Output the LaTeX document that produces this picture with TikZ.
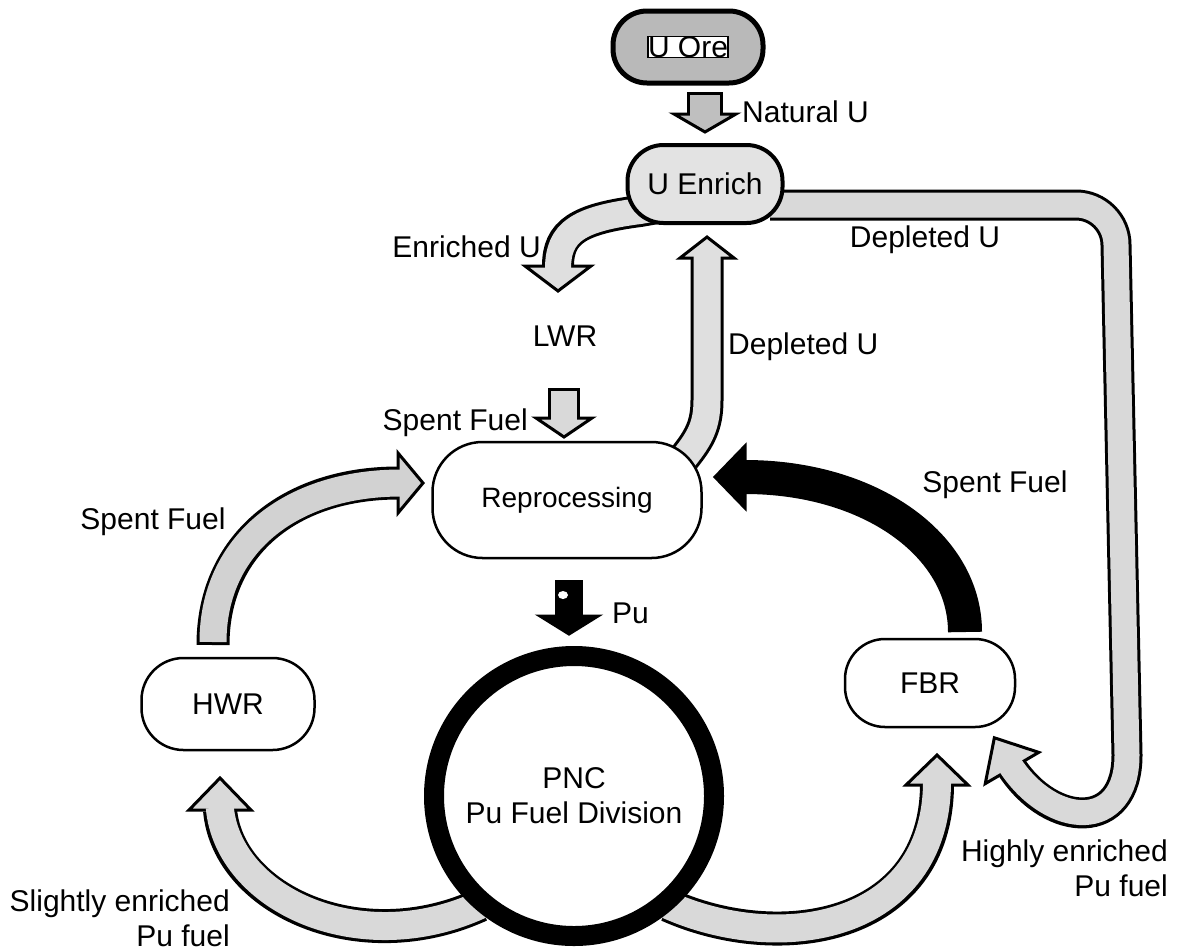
\documentclass[tikz,border=0pt]{standalone}
\usepackage{fontspec}
\setmainfont{Liberation Sans}
\usetikzlibrary{backgrounds}
\newcommand\bhead[6]{%
  \begin{scope}[shift={(#1,#2)}, rotate=#3]
    \filldraw[fill=#6, draw=black, line width=3pt, line join=miter] (0,-#4/2) -- (#5,0) -- (0,#4/2) -- cycle;
  \end{scope}}
\begin{document}
\begin{tikzpicture}[x=1pt,y=-1pt,
  txt/.style={font=\fontsize{30}{35}\selectfont, inner sep=0pt},
  pill/.style={draw, line width=2.5pt, fill=white, rounded corners=#1, font=\fontsize{30}{35}\selectfont},
  inner/.style={draw=#1, shorten >=-3pt},
  ]
\useasboundingbox (0,0) rectangle (1177,951);

% ---------- nodes ----------
\node[pill=34pt, line width=5pt, fill=gray!55, minimum width=150pt, minimum height=72pt] (uore) at (688,47) {};
\node[draw, line width=1.2pt, fill=white, inner sep=3pt, txt] (uoretxt) at (uore.center) {U Ore};
\node[pill=36pt, line width=4pt, fill=gray!22, minimum width=155pt, minimum height=78pt] (uenrich) at (705,184) {U Enrich};
\node[pill=50pt, minimum width=269pt, minimum height=116pt, font=\fontsize{28}{33}\selectfont] (repro) at (567,500) {Reprocessing};
\node[pill=42pt, minimum width=173pt, minimum height=92pt] (hwr) at (228,704) {HWR};
\node[pill=40pt, minimum width=170pt, minimum height=88pt] (fbr) at (930,683) {FBR};
\node[circle, draw, line width=20pt, fill=white, minimum size=280pt, align=center, txt] (pnc) at (574,796) {PNC\\Pu Fuel Division};

% ---------- labels ----------
\node[txt, anchor=west] (lnat) at (742,112) {Natural U};
\node[txt, anchor=east] (lenr) at (541,247) {Enriched U};
\node[txt] (llwr) at (565,336) {LWR};
\node[txt, anchor=east] (lsf1) at (528,423) {Spent Fuel};
\node[txt, anchor=west] (ldep1) at (728,347) {Depleted U};
\node[txt] (ldep2) at (925,240) {Depleted U};
\node[txt] (lsf2) at (153,522) {Spent Fuel};
\node[txt] (lsf3) at (995,485) {Spent Fuel};
\node[txt, anchor=west] (lpu) at (612,613) {Pu};
\node[txt, align=right, anchor=east] (lslight) at (230,918) {Slightly enriched\\Pu fuel};
\node[txt, align=right, anchor=east] (lhigh) at (1168,868) {Highly enriched\\Pu fuel};

% ---------- block arrows ----------
\begin{scope}[on background layer]
\fill[white] (0,0) rectangle (1177,951);
% named end points
\coordinate (natA) at (705,92);   \coordinate (natB) at (705,114);
\coordinate (enrA) at (680,204);  \coordinate (enrB) at (558,266);
\coordinate (lwrA) at (564,388);  \coordinate (lwrB) at (564,418);
\coordinate (depA) at (684,458);  \coordinate (depB) at (707,258);
\coordinate (puA) at (569,580);   \coordinate (puB) at (569,616);
\coordinate (hsA) at (213,645);   \coordinate (hsB) at (398,483);
\coordinate (fsA) at (965,632);   \coordinate (fsB) at (745,477);
\coordinate (blA) at (480,905);   \coordinate (blB) at (220,810);
\coordinate (brA) at (668,905);   \coordinate (brB) at (937,785);
\coordinate (barA) at (770,205);  \coordinate (barB) at (1012,768);

% Natural U
\draw[line width=36pt] (natA) -- (natB);
\bhead{705}{114}{270}{62}{18}{gray!50}
\draw[inner=gray!50, line width=30pt, shorten <=3pt] (natA) -- (natB);

% Enriched U
\draw[line width=32pt] (enrA) -- (640,211) .. controls (578,219) and (558,232) .. (enrB);
\bhead{558}{266}{270}{66}{25}{gray!25}
\draw[inner=gray!25, line width=26pt] (enrA) -- (640,211) .. controls (578,219) and (558,232) .. (enrB);

% LWR spent fuel
\draw[line width=32pt] (lwrA) -- (lwrB);
\bhead{564}{418}{270}{56}{19}{gray!30}
\draw[inner=gray!30, line width=26pt, shorten <=3pt] (lwrA) -- (lwrB);

% Depleted U (up)
\draw[line width=33pt] (depA) .. controls (700,438) and (707,425) .. (707,400) -- (depB);
\bhead{707}{258}{90}{54}{21}{gray!25}
\draw[inner=gray!25, line width=27pt] (depA) .. controls (700,438) and (707,425) .. (707,400) -- (depB);

% Pu
\draw[line width=28pt] (puA) -- (puB);
\bhead{569}{616}{270}{58}{18}{black}
\fill[white] (563,595) ellipse (5 and 4);

% HWR spent fuel
\draw[line width=33pt] (hsA) .. controls (213,545) and (290,483) .. (hsB);
\bhead{398}{483}{0}{60}{25}{gray!35}
\draw[inner=gray!35, line width=27pt, shorten <=3pt] (hsA) .. controls (213,545) and (290,483) .. (hsB);

% FBR spent fuel (black)
\draw[line width=34pt] (fsA) .. controls (965,545) and (870,477) .. (fsB);
\bhead{745}{477}{180}{62}{30}{black}

% PNC -> HWR
\draw[line width=34pt] (blA) .. controls (360,960) and (228,900) .. (blB);
\bhead{220}{810}{90}{62}{32}{gray!30}
\draw[inner=gray!30, line width=28pt] (blA) .. controls (360,960) and (228,900) .. (blB);

% PNC -> FBR
\draw[line width=34pt] (brA) .. controls (780,955) and (936,930) .. (brB);
\bhead{937}{785}{90}{62}{30}{gray!30}
\draw[inner=gray!30, line width=28pt] (brA) .. controls (780,955) and (936,930) .. (brB);

% Depleted U bar U Enrich -> FBR
\draw[line width=31pt] (barA) -- (1076,205) .. controls (1098,205) and (1116,223) .. (1116,245) -- (1127,755) .. controls (1127,832) and (1052,828) .. (barB);
\bhead{1012}{768}{120.3}{62}{35}{gray!30}
\draw[inner=gray!30, line width=25pt] (barA) -- (1076,205) .. controls (1098,205) and (1116,223) .. (1116,245) -- (1127,755) .. controls (1127,832) and (1052,828) .. (barB);
\end{scope}
\end{tikzpicture}
\end{document}
